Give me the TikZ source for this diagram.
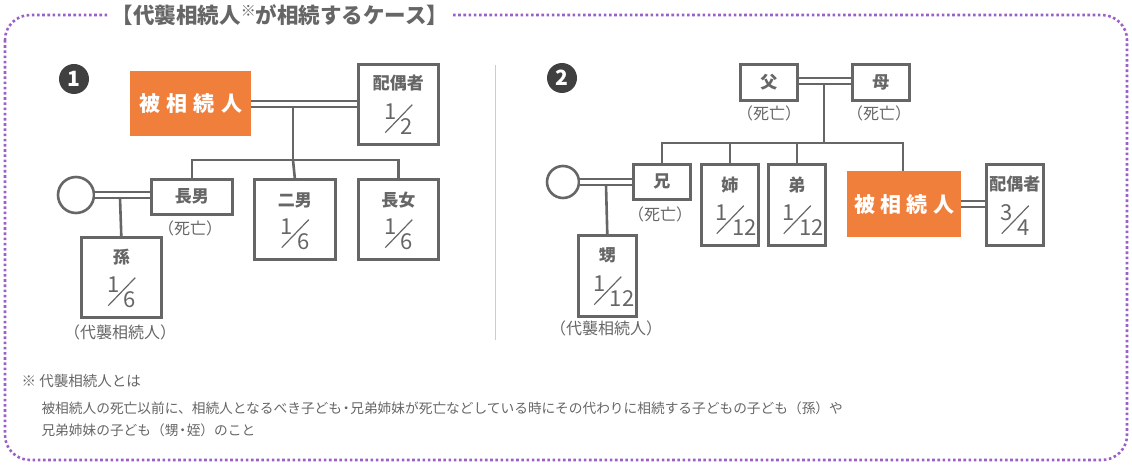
\documentclass[tikz,border=0pt]{standalone}
\usepackage{fontspec}
\setmainfont{Noto Sans CJK JP}
\usetikzlibrary{calc}
\definecolor{lgray}{HTML}{666666}
\definecolor{sorange}{HTML}{F07F3C}
\definecolor{dpurple}{HTML}{9B5FC8}
\newcommand{\bx}{\node[draw=lgray, line width=2.6pt, inner sep=0pt, anchor=north west, text=lgray]}
\newcommand{\frc}[3]{%
  \coordinate (#1f) at ($(#1.south)+(0,-27)$);
  \node[text=lgray, font=\fontsize{22}{22}\selectfont] (#1n) at ($(#1f)+(-8,-7)$) {#2};
  \node[text=lgray, font=\fontsize{22}{22}\selectfont, anchor=west] (#1d) at ($(#1f)+(-1,8)$) {#3};
  \draw[lgray, line width=1.2pt] ($(#1f)+(-13,14)$) -- ($(#1f)+(14,-14)$);
}
\tikzset{
  dbl/.style={lgray, double=white, line width=2.2pt, double distance=4pt},
  ln/.style={lgray, line width=2.6pt},
  lbl/.style={text=lgray, font=\fontsize{16}{16}\selectfont},
  nm/.style={text=lgray, font=\bfseries\fontsize{17}{17}\selectfont},
  num/.style={circle, fill=black!75, text=white, minimum size=30pt, inner sep=0pt, font=\bfseries\fontsize{21}{21}\selectfont}
}
\begin{document}
\begin{tikzpicture}[x=1pt, y=-1pt]
\useasboundingbox (0,0) rectangle (1132,465);
% frame
\draw[dpurple, line width=2.6pt, dash pattern=on 2.6pt off 2.6pt, rounded corners=25pt] (5,15) rectangle (1127,460);
\node[fill=white, inner xsep=3pt, text=lgray, font=\bfseries\fontsize{21.5}{21.5}\selectfont] (title) at (280,15) {【代襲相続人\raisebox{7pt}{\fontsize{15}{15}\mdseries\selectfont ※}が相続するケース】};
\draw[black!20, line width=0.8pt] (495,65) -- (495,340);

% case 1
\node[num] (c1) at (74,79) {1};
\node[fill=sorange, text=white, minimum width=121pt, minimum height=65pt, anchor=north west, font=\bfseries\fontsize{21}{21}\selectfont] (dec1) at (130,71) {被\hspace{0.3em}相\hspace{0.3em}続\hspace{0.3em}人};
\bx[minimum width=80pt, minimum height=80pt] (sp1) at (357,63) {};
\node[nm] at ($(sp1.north)+(0,20)$) {配偶者};
\frc{sp1}{1}{2}
\bx[minimum width=81pt, minimum height=35pt] (son1) at (150,178) {\bfseries\fontsize{17}{17}\selectfont 長男};
\node[lbl] at (190,228) {（死亡）};
\bx[minimum width=81pt, minimum height=80pt] (son2) at (253,178) {};
\node[nm] at ($(son2.north)+(0,22)$) {二男};
\frc{son2}{1}{6}
\bx[minimum width=80pt, minimum height=80pt] (dau1) at (357,178) {};
\node[nm] at ($(dau1.north)+(0,22)$) {長女};
\frc{dau1}{1}{6}
\node[circle, draw=lgray, line width=2.6pt, minimum size=36pt, inner sep=0pt] (wf1) at (76,195) {};
\bx[minimum width=80pt, minimum height=80pt] (gc1) at (80,236) {};
\node[nm] at ($(gc1.north)+(0,21)$) {孫};
\frc{gc1}{1}{6}
\node[lbl] at (120,332) {（代襲相続人）};
\draw[dbl] (dec1.east |- 0,104) -- (sp1.west |- 0,104);
\draw[ln] (293,107) -- (293,160);
\draw[ln] (son1.north) |- (293,160) -| (dau1.north);
\draw[ln] (293,160) -- (son2.north);
\draw[dbl] (wf1.east |- 0,195) -- (son1.west |- 0,195);
\draw[ln] (120,198) -- (gc1.north);

% case 2
\node[num] (c2) at (562,78) {2};
\bx[minimum width=57pt, minimum height=36pt] (fa) at (739,63) {\bfseries\fontsize{17}{17}\selectfont 父};
\bx[minimum width=57pt, minimum height=36pt] (mo) at (851,63) {\bfseries\fontsize{17}{17}\selectfont 母};
\node[lbl] at (769,113) {（死亡）};
\node[lbl] at (879,113) {（死亡）};
\bx[minimum width=57pt, minimum height=35pt] (bro) at (632,163) {\bfseries\fontsize{17}{17}\selectfont 兄};
\node[lbl] at (660,214) {（死亡）};
\bx[minimum width=57pt, minimum height=81pt] (sis) at (700,163) {};
\node[nm] at ($(sis.north)+(0,22)$) {姉};
\frc{sis}{1}{12}
\bx[minimum width=57pt, minimum height=81pt] (ybro) at (767,163) {};
\node[nm] at ($(ybro.north)+(0,22)$) {弟};
\frc{ybro}{1}{12}
\node[fill=sorange, text=white, minimum width=114pt, minimum height=66pt, anchor=north west, font=\bfseries\fontsize{21}{21}\selectfont] (dec2) at (847,171) {被\hspace{0.25em}相\hspace{0.25em}続\hspace{0.25em}人};
\bx[minimum width=57pt, minimum height=81pt] (sp2) at (985,163) {};
\node[nm] at ($(sp2.north)+(0,21)$) {配偶者};
\frc{sp2}{3}{4}
\node[circle, draw=lgray, line width=2.6pt, minimum size=32pt, inner sep=0pt] (wf2) at (563,182) {};
\bx[minimum width=58pt, minimum height=81pt] (nep) at (577,234) {};
\node[nm] at ($(nep.north)+(0,21)$) {甥};
\frc{nep}{1}{12}
\node[lbl] at (606,328) {（代襲相続人）};
\draw[dbl] (fa.east |- 0,81) -- (mo.west |- 0,81);
\draw[ln] (824,84) -- (824,143);
\draw[ln] (bro.north) |- (824,143) -| (dec2.north -| 903,0);
\draw[ln] (sis.north) -- (sis.north |- 0,143);
\draw[ln] (ybro.north) -- (ybro.north |- 0,143);
\draw[dbl] (dec2.east |- 0,204) -- (sp2.west |- 0,204);
\draw[dbl] (wf2.east |- 0,182) -- (bro.west |- 0,182);
\draw[ln] (606,185) -- (nep.north);

% note
\node[lbl, anchor=west, font=\fontsize{14.5}{14.5}\selectfont] (nt) at (18,381) {※ 代襲相続人とは};
\node[lbl, anchor=north west, align=left, font=\fontsize{13.7}{22}\selectfont] (ntx) at (38,398) {被相続人の死亡以前に、相続人となるべき子ども\hspace{-0.2em}・\hspace{-0.2em}兄弟姉妹が死亡などしている時にその代わりに相続する子どもの子ども（孫）や\\兄弟姉妹の子ども（甥\hspace{-0.2em}・\hspace{-0.2em}姪）のこと};
\end{tikzpicture}
\end{document}
